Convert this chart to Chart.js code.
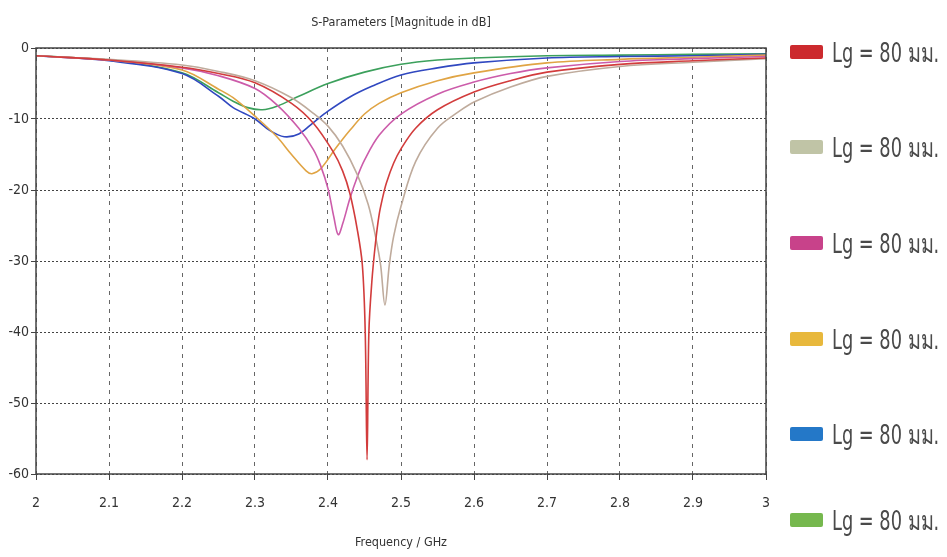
<!DOCTYPE html>
<html>
<head>
<meta charset="utf-8">
<script src="https://cdn.jsdelivr.net/npm/chart.js@4.4.1/dist/chart.umd.min.js"></script>
<style>
  html, body { margin: 0; padding: 0; background: #fff; }
  #wrap { position: relative; width: 947px; height: 557px; }
  #legend { position: absolute; left: 790px; top: 0; width: 157px; height: 557px;
    font-family: "DejaVu Sans Condensed", "DejaVu Sans", sans-serif; }
  .item { position: absolute; left: 0; height: 30px; display: flex; align-items: center;
    font-size: 26px; color: #4a4a4a; white-space: nowrap; }
  .box { width: 33px; height: 14px; border-radius: 2px; margin-right: 9px; flex: none; }
  .txt { display: inline-block; transform: scaleX(0.76); transform-origin: left center; }
</style>
</head>
<body>
<div id="wrap">
  <canvas id="sparams"></canvas>
  <div id="legend"></div>
</div>
<script>
// legend text, same for all six curves in the source figure
const seriesLabels = ["Lg = 80 มม.", "Lg = 80 มม.", "Lg = 80 มม.", "Lg = 80 มม.", "Lg = 80 มม.", "Lg = 80 มม."];

// S11 curves: frequency (GHz) / magnitude (dB)
const freqRed = [2.00, 2.10, 2.20, 2.25, 2.30, 2.35, 2.38, 2.407, 2.42, 2.43, 2.44, 2.447, 2.451, 2.4535, 2.456, 2.46, 2.465, 2.47, 2.475, 2.48, 2.49, 2.50, 2.52, 2.55, 2.60, 2.65, 2.70, 2.80, 2.90, 3.00];
const dbRed   = [-1.1, -1.7, -2.7, -3.6, -4.9, -7.8, -10.6, -14.6, -17.3, -20.5, -25.5, -30.5, -40, -58, -40, -33, -27.5, -23.5, -21, -19, -16.2, -14.2, -11.3, -8.7, -6.2, -4.6, -3.4, -2.3, -1.8, -1.4];

const freqKhaki = [2.00, 2.10, 2.20, 2.25, 2.30, 2.35, 2.38, 2.40, 2.42, 2.44, 2.455, 2.465, 2.472, 2.478, 2.484, 2.49, 2.50, 2.52, 2.55, 2.58, 2.60, 2.65, 2.70, 2.80, 2.90, 3.00];
const dbKhaki   = [-1.1, -1.6, -2.4, -3.3, -4.6, -7.0, -9.2, -11.0, -13.8, -17.8, -22.0, -26.5, -30.5, -36.2, -30.5, -26.5, -22.3, -16, -11.3, -8.9, -7.6, -5.5, -4.0, -2.6, -2.0, -1.5];

const freqPink = [2.00, 2.10, 2.20, 2.25, 2.30, 2.33, 2.36, 2.38, 2.39, 2.40, 2.408, 2.414, 2.42, 2.43, 2.44, 2.45, 2.47, 2.50, 2.55, 2.60, 2.65, 2.70, 2.80, 2.90, 3.00];
const dbPink   = [-1.1, -1.7, -2.8, -3.9, -5.7, -8.0, -11.3, -14.3, -16.6, -19.8, -23.8, -26.3, -24.8, -21.2, -18.2, -15.8, -12.3, -9.3, -6.5, -4.8, -3.6, -2.8, -1.9, -1.5, -1.2];

const freqOrange = [2.00, 2.10, 2.20, 2.25, 2.27, 2.30, 2.33, 2.35, 2.37, 2.378, 2.39, 2.41, 2.43, 2.45, 2.47, 2.50, 2.55, 2.60, 2.70, 2.80, 2.90, 3.00];
const dbOrange   = [-1.1, -1.7, -3.1, -5.8, -7.0, -9.6, -12.5, -15.0, -17.3, -17.7, -17.0, -14.2, -11.6, -9.3, -7.8, -6.3, -4.6, -3.5, -2.1, -1.6, -1.3, -1.0];

const freqBlue = [2.00, 2.10, 2.20, 2.25, 2.27, 2.30, 2.32, 2.34, 2.36, 2.38, 2.40, 2.43, 2.46, 2.50, 2.55, 2.60, 2.70, 2.80, 2.90, 3.00];
const dbBlue   = [-1.1, -1.8, -3.6, -6.8, -8.4, -10.0, -11.6, -12.5, -12.1, -10.5, -8.9, -6.9, -5.4, -3.8, -2.8, -2.1, -1.4, -1.2, -1.1, -0.9];

const freqGreen = [2.00, 2.10, 2.20, 2.25, 2.27, 2.29, 2.31, 2.33, 2.36, 2.40, 2.45, 2.50, 2.55, 2.60, 2.70, 2.80, 2.90, 3.00];
const dbGreen   = [-1.1, -1.7, -3.5, -6.3, -7.5, -8.4, -8.7, -8.2, -6.8, -5.0, -3.4, -2.3, -1.7, -1.4, -1.1, -1.0, -0.9, -0.8];

function toPoints(freq, db) {
  return freq.map((f, i) => ({x: f, y: db[i]}));
}

const curves = [
  [freqRed, dbRed, "#d23c3c", "#cc2a2e"],
  [freqKhaki, dbKhaki, "#bfab9c", "#c0c4a6"],
  [freqPink, dbPink, "#cc5caa", "#c8428a"],
  [freqOrange, dbOrange, "#e0a444", "#e8b83c"],
  [freqBlue, dbBlue, "#3048c0", "#2478c8"],
  [freqGreen, dbGreen, "#3ca05c", "#76b84e"]
];

const datasets = curves.map((c, i) => ({
  label: seriesLabels[i],
  data: toPoints(c[0], c[1]),
  borderColor: c[2],
  legendColor: c[3],
  borderWidth: 1.6,
  pointRadius: 0,
  tension: 0.35,
  fill: false
}));

const fontFamily = '"DejaVu Sans Condensed", "DejaVu Sans", sans-serif';
const tickFont = {family: fontFamily, size: 14};

const framePlugin = {
  id: 'frame',
  afterDatasetsDraw(chart) {
    const {ctx, chartArea: a} = chart;
    ctx.save();
    ctx.strokeStyle = '#444';
    ctx.lineWidth = 1.5;
    ctx.strokeRect(a.left, a.top, a.right - a.left, a.bottom - a.top);
    ctx.restore();
  }
};

const chart = new Chart(document.getElementById('sparams'), {
  type: 'line',
  data: {datasets: datasets},
  options: {
    responsive: true,
    maintainAspectRatio: false,
    animation: false,
    layout: {padding: {top: 0, right: 181, left: 0, bottom: 0}},
    plugins: {
      legend: {display: false},
      tooltip: {enabled: false},
      title: {
        display: true,
        text: 'S-Parameters [Magnitude in dB]',
        fullSize: false,
        color: '#333',
        font: {family: fontFamily, size: 12.5, weight: 'normal'},
        padding: {top: 15, bottom: 18}
      }
    },
    scales: {
      x: {
        type: 'linear',
        min: 2,
        max: 3,
        ticks: {
          stepSize: 0.1,
          color: '#333',
          font: tickFont,
          padding: 15,
          maxRotation: 0,
          callback: v => String(+v.toFixed(1))
        },
        grid: {color: '#666', lineWidth: 1, tickLength: 6, tickColor: '#444'},
        border: {display: false, dash: [4, 5]},
        title: {
          display: true,
          text: 'Frequency / GHz',
          color: '#333',
          font: {family: fontFamily, size: 12.5},
          padding: {top: 4, bottom: 7}
        },
        afterFit: s => { s.height = 83; }
      },
      y: {
        min: -60,
        max: 0,
        ticks: {
          stepSize: 10,
          color: '#333',
          font: tickFont,
          padding: 2,
          callback: v => String(v)
        },
        grid: {color: '#444', lineWidth: 1, tickLength: 5, tickColor: '#444'},
        border: {display: false, dash: [2, 2]},
        afterFit: s => { s.width = 36; }
      }
    }
  },
  plugins: [framePlugin]
});

// html legend, spaced like the source figure
const legendTops = [52, 147, 243, 339, 434, 520];
const legendBox = document.getElementById('legend');
chart.data.datasets.forEach((ds, i) => {
  const item = document.createElement('div');
  item.className = 'item';
  item.style.top = (legendTops[i] - 15) + 'px';
  const box = document.createElement('span');
  box.className = 'box';
  box.style.background = ds.legendColor;
  const txt = document.createElement('span');
  txt.className = 'txt';
  txt.textContent = ds.label;
  item.appendChild(box);
  item.appendChild(txt);
  legendBox.appendChild(item);
});
</script>
</body>
</html>
